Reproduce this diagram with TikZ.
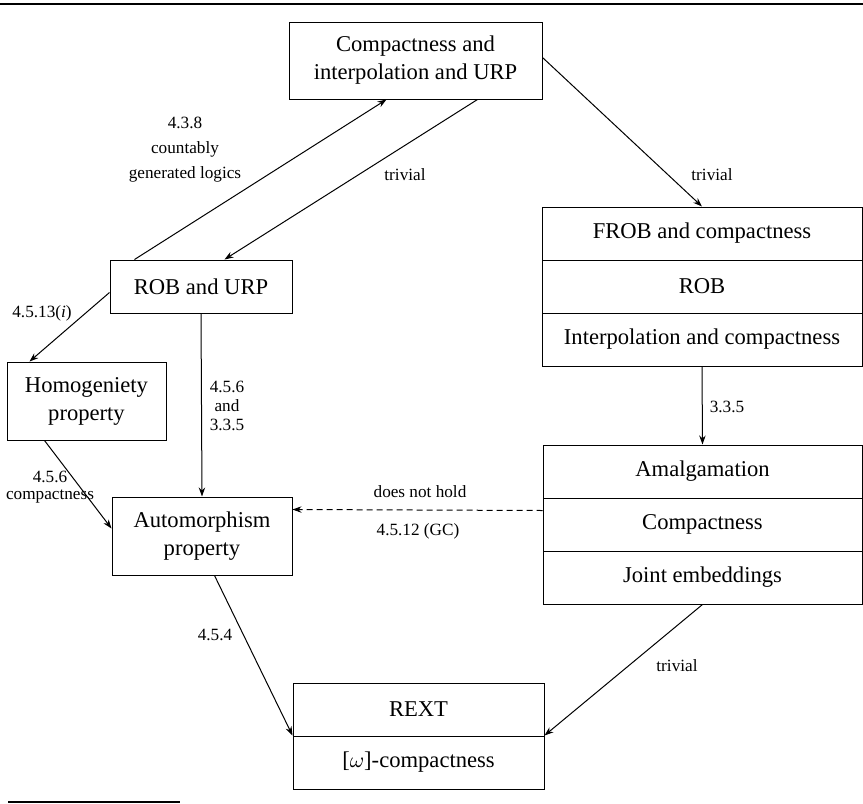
\documentclass[tikz,border=0pt]{standalone}
\usepackage{fontspec}
\setmainfont{Liberation Serif}
\usetikzlibrary{calc,arrows.meta}
\begin{document}
\begin{tikzpicture}[x=0.5pt,y=-0.5pt,
  line width=0.5pt,
  box/.style={draw,inner sep=0pt,align=center,
    font=\fontsize{11.3}{14}\selectfont},
  lbl/.style={inner sep=0pt,align=center,font=\fontsize{8.6}{12.5}\selectfont},
  arr/.style={-{Stealth[length=4.5pt,width=3.2pt]}},
  dasharr/.style={arr,dash pattern=on 3pt off 2pt}]
\useasboundingbox (0,0) rectangle (863,804);

% page rules
\coordinate (r1) at (0,4);
\coordinate (r2) at (863,4);
\coordinate (r3) at (8,802);
\coordinate (r4) at (180,802);
\draw[line width=0.9pt] (r1) -- (r2);
\draw[line width=0.9pt] (r3) -- (r4);

% single boxes
\node[box,minimum width=126.5pt,minimum height=38.5pt] (top) at (415.5,60.5)
  {Compactness and\\interpolation and URP};
\node[box,minimum width=91pt,minimum height=26.5pt] (rob) at (201,286.5)
  {ROB and URP};
\node[box,minimum width=79.5pt,minimum height=39pt] (hom) at (86.5,401)
  {Homogeniety\\property};
\node[box,minimum width=90pt,minimum height=39pt] (aut) at (202,536)
  {Automorphism\\property};

% stacked boxes
\node[box,minimum width=160pt,minimum height=26.5pt] (frob1) at (702,233.5) {FROB and compactness};
\node[box,minimum width=160pt,minimum height=26.5pt] (frob2) at (702,286.5) {ROB};
\node[box,minimum width=160pt,minimum height=26.5pt] (frob3) at (702,339.5) {Interpolation and compactness};

\node[box,minimum width=159.5pt,minimum height=26.5pt] (amal1) at (702.5,471.5) {Amalgamation};
\node[box,minimum width=159.5pt,minimum height=26.5pt] (amal2) at (702.5,524.5) {Compactness};
\node[box,minimum width=159.5pt,minimum height=26.5pt] (amal3) at (702.5,577.5) {Joint embeddings};

\node[box,minimum width=125.5pt,minimum height=26.5pt] (rext1) at (418.5,709.5) {REXT};
\node[box,minimum width=125.5pt,minimum height=26.5pt] (rext2) at (418.5,762.5) {[$\omega$]-compactness};

% connectors
\draw[arr] ($(rob.north west)+(25,0)$) -- ($(top.south west)+(98,0)$);
\draw[arr] ($(top.south west)+(189,0)$) -- ($(rob.north west)+(115,0)$);
\draw[arr] ($(top.north east)+(0,36)$) -- (frob1.north);
\draw[arr] ($(rob.north west)+(0,33)$) -- ($(hom.north west)+(23,0)$);
\draw[arr] (rob.south) -- (aut.north);
\draw[arr] ($(hom.south west)+(38,0)$) -- ($(aut.north west)+(0,32)$);
\draw[arr] (frob3.south) -- (amal1.north);
\draw[dasharr] ($(amal1.south west)+(0,12)$) -- ($(aut.north east)+(0,13)$);
\draw[arr] ($(aut.south west)+(103,0)$) -- (rext2.north west);
\draw[arr] ($(amal3.south west)+(160,0)$) -- (rext2.north east);

% connector labels
\node[lbl] (l438) at (185,150) {4.3.8\\countably\\generated logics};
\node[lbl] (ltr1) at (405,175) {trivial};
\node[lbl] (ltr2) at (712,175) {trivial};
\node[lbl] (l4513) at (42,313) {4.5.13(\textit{i})};
\node[lbl,font=\fontsize{8.6}{9.3}\selectfont] (l456a) at (227,406) {4.5.6\\and\\3.3.5};
\node[lbl,font=\fontsize{8.6}{8.6}\selectfont] (l456b) at (50,487) {4.5.6\\compactness};
\node[lbl] (ldnh) at (420,492) {does not hold};
\node[lbl] (l4512) at (418,531) {4.5.12 (GC)};
\node[lbl] (l335) at (727,407) {3.3.5};
\node[lbl] (l454) at (215,635) {4.5.4};
\node[lbl] (ltr3) at (677,666) {trivial};
\end{tikzpicture}
\end{document}
